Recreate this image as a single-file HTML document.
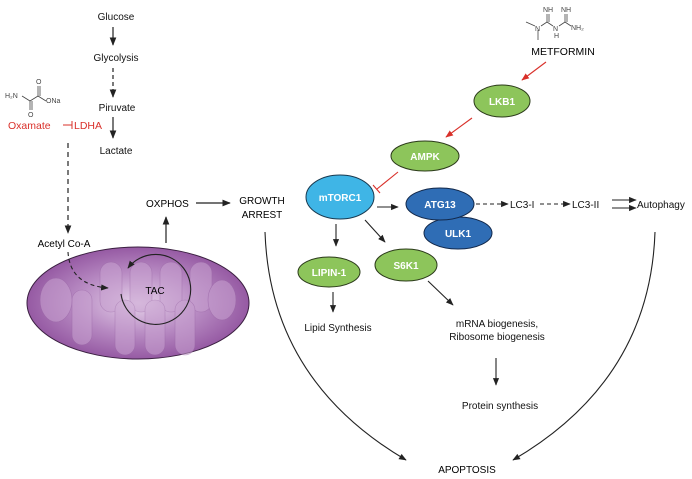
<!DOCTYPE html>
<html><head><meta charset="utf-8"><style>
html,body{margin:0;padding:0;background:#fff;}
svg{display:block;font-family:"Liberation Sans",Arial,sans-serif;}
</style></head><body>
<svg width="692" height="479" viewBox="0 0 692 479" xmlns="http://www.w3.org/2000/svg">
<defs>
<marker id="a" viewBox="0 0 10 10" refX="9" refY="5" markerWidth="7" markerHeight="7" orient="auto-start-reverse"><path d="M0,1 L10,5 L0,9 z" fill="#222"/></marker>
<marker id="r" viewBox="0 0 10 10" refX="9" refY="5" markerWidth="7" markerHeight="7" orient="auto"><path d="M0,1 L10,5 L0,9 z" fill="#d9302a"/></marker>
<radialGradient id="mg" cx="50%" cy="50%" r="55%"><stop offset="0" stop-color="#e6d2ea"/><stop offset="0.5" stop-color="#b88bc3"/><stop offset="1" stop-color="#8e4f9c"/></radialGradient>
</defs>
<g font-size="10" fill="#111" text-anchor="middle">
<text x="116" y="20">Glucose</text>
<text x="116" y="61">Glycolysis</text>
<text x="117" y="111">Piruvate</text>
<text x="116" y="154">Lactate</text>
</g>
<g stroke="#222" stroke-width="1.2" fill="none">
<line x1="113" y1="27" x2="113" y2="45" marker-end="url(#a)"/>
<line x1="113" y1="68" x2="113" y2="97" stroke-dasharray="4,3" marker-end="url(#a)"/>
<line x1="113" y1="117" x2="113" y2="138" marker-end="url(#a)"/>
<line x1="68" y1="143" x2="68" y2="233" stroke-dasharray="5,4" marker-end="url(#a)"/>
</g>
<g stroke="#444" stroke-width="0.8" fill="none">
<polyline points="22,96 30,101 38,96 46,101"/>
<line x1="30" y1="101" x2="30" y2="110"/><line x1="32" y1="101" x2="32" y2="110"/>
<line x1="38" y1="96" x2="38" y2="86"/><line x1="40" y1="96" x2="40" y2="86"/>
</g>
<g font-size="7" fill="#444"><text x="5" y="98">H₂N</text><text x="36" y="84">O</text><text x="28" y="117">O</text><text x="46" y="103">ONa</text></g>
<text x="8" y="129" font-size="10.5" fill="#d9302a">Oxamate</text>
<line x1="63" y1="125" x2="72" y2="125" stroke="#d9302a" stroke-width="1"/><line x1="72" y1="121" x2="72" y2="129" stroke="#d9302a" stroke-width="1"/>
<text x="74" y="129" font-size="10.5" fill="#d9302a">LDHA</text>
<text x="64" y="247" font-size="10" text-anchor="middle">Acetyl Co-A</text>
<ellipse cx="138" cy="303" rx="111" ry="56" fill="url(#mg)" stroke="#3a1f40" stroke-width="1"/>
<g fill="#c9a3d1" opacity="0.55" stroke="#9a68a6" stroke-width="0.6">
<rect x="100" y="262" width="22" height="50" rx="11"/>
<rect x="130" y="262" width="22" height="50" rx="11"/>
<rect x="160" y="262" width="22" height="50" rx="11"/>
<rect x="190" y="262" width="22" height="50" rx="11"/>
<rect x="72" y="290" width="20" height="55" rx="10"/>
<rect x="115" y="300" width="20" height="55" rx="10"/>
<rect x="145" y="300" width="20" height="55" rx="10"/>
<rect x="175" y="300" width="20" height="55" rx="10"/>
<ellipse cx="56" cy="300" rx="16" ry="22"/>
<ellipse cx="222" cy="300" rx="14" ry="20"/>
</g>
<path d="M121,294 A35,35 0 1 0 128,268" fill="none" stroke="#222" stroke-width="1.1" marker-end="url(#a)"/>
<text x="155" y="294" font-size="10" text-anchor="middle">TAC</text>
<path d="M68,252 Q70,285 108,288" fill="none" stroke="#222" stroke-width="1.1" stroke-dasharray="4,3" marker-end="url(#a)"/>
<line x1="166" y1="243" x2="166" y2="217" stroke="#222" stroke-width="1.2" marker-end="url(#a)"/>
<text x="146" y="207" font-size="10">OXPHOS</text>
<line x1="196" y1="203" x2="230" y2="203" stroke="#222" stroke-width="1.2" marker-end="url(#a)"/>
<text x="262" y="204" font-size="10" text-anchor="middle">GROWTH</text>
<text x="262" y="218" font-size="10" text-anchor="middle">ARREST</text>
<path d="M265,232 Q270,380 406,460" fill="none" stroke="#222" stroke-width="1.1" marker-end="url(#a)"/>
<path d="M655,232 Q650,380 513,460" fill="none" stroke="#222" stroke-width="1.1" marker-end="url(#a)"/>
<text x="467" y="473" font-size="10" text-anchor="middle">APOPTOSIS</text>
<g stroke="#444" stroke-width="0.8" fill="none">
<line x1="526" y1="22" x2="535" y2="26"/><line x1="538" y1="30" x2="538" y2="40"/>
<polyline points="541,26 547,22 553,26"/><line x1="547" y1="22" x2="547" y2="14"/><line x1="549" y1="22" x2="549" y2="14"/>
<polyline points="559,26 565,22 571,26"/><line x1="565" y1="22" x2="565" y2="14"/><line x1="567" y1="22" x2="567" y2="14"/>
</g>
<g font-size="7" fill="#444"><text x="535" y="31">N</text><text x="553" y="31">N</text><text x="554" y="38">H</text><text x="543" y="12">NH</text><text x="561" y="12">NH</text><text x="571" y="30">NH₂</text></g>
<text x="563" y="55" font-size="10.5" text-anchor="middle">METFORMIN</text>
<line x1="546" y1="62" x2="522" y2="80" stroke="#d9302a" stroke-width="1.1" marker-end="url(#r)"/>
<line x1="472" y1="118" x2="446" y2="137" stroke="#d9302a" stroke-width="1.1" marker-end="url(#r)"/>
<line x1="398" y1="172" x2="377" y2="189" stroke="#d9302a" stroke-width="1.1"/>
<line x1="373" y1="185" x2="380" y2="193" stroke="#d9302a" stroke-width="1.1"/>
<g stroke="#2b3a1a" stroke-width="1">
<ellipse cx="502" cy="101" rx="28" ry="16" fill="#8dc55b"/>
<ellipse cx="425" cy="156" rx="34" ry="15" fill="#8dc55b"/>
<ellipse cx="329" cy="272" rx="31" ry="15" fill="#8dc55b"/>
<ellipse cx="406" cy="265" rx="31" ry="16" fill="#8dc55b"/>
</g>
<ellipse cx="340" cy="197" rx="34" ry="22" fill="#3fb5e6" stroke="#1a3a50" stroke-width="1"/>
<ellipse cx="458" cy="233" rx="34" ry="16" fill="#2f6db5" stroke="#12284a" stroke-width="1"/>
<ellipse cx="440" cy="204" rx="34" ry="16" fill="#2f6db5" stroke="#12284a" stroke-width="1"/>
<g font-size="10" font-weight="bold" fill="#fff" text-anchor="middle">
<text x="502" y="105">LKB1</text><text x="425" y="160">AMPK</text><text x="340" y="201">mTORC1</text>
<text x="440" y="208">ATG13</text><text x="458" y="237">ULK1</text>
<text x="329" y="276">LIPIN-1</text><text x="406" y="269">S6K1</text>
</g>
<g stroke="#222" stroke-width="1.1" fill="none">
<line x1="377" y1="207" x2="398" y2="207" marker-end="url(#a)"/>
<line x1="476" y1="204" x2="508" y2="204" stroke-dasharray="4,3" marker-end="url(#a)"/>
<line x1="540" y1="204" x2="570" y2="204" stroke-dasharray="4,3" marker-end="url(#a)"/>
<line x1="612" y1="200" x2="636" y2="200" marker-end="url(#a)"/>
<line x1="612" y1="208" x2="636" y2="208" marker-end="url(#a)"/>
<line x1="336" y1="224" x2="336" y2="246" marker-end="url(#a)"/>
<line x1="365" y1="220" x2="385" y2="242" marker-end="url(#a)"/>
<line x1="333" y1="292" x2="333" y2="312" marker-end="url(#a)"/>
<line x1="428" y1="281" x2="453" y2="305" marker-end="url(#a)"/>
<line x1="496" y1="358" x2="496" y2="385" marker-end="url(#a)"/>
</g>
<g font-size="10" fill="#111">
<text x="510" y="208">LC3-I</text><text x="572" y="208">LC3-II</text><text x="637" y="208">Autophagy</text>
<text x="338" y="331" text-anchor="middle">Lipid Synthesis</text>
<text x="497" y="327" text-anchor="middle">mRNA biogenesis,</text>
<text x="497" y="340" text-anchor="middle">Ribosome biogenesis</text>
<text x="500" y="409" text-anchor="middle">Protein synthesis</text>
</g>
</svg>
</body></html>
